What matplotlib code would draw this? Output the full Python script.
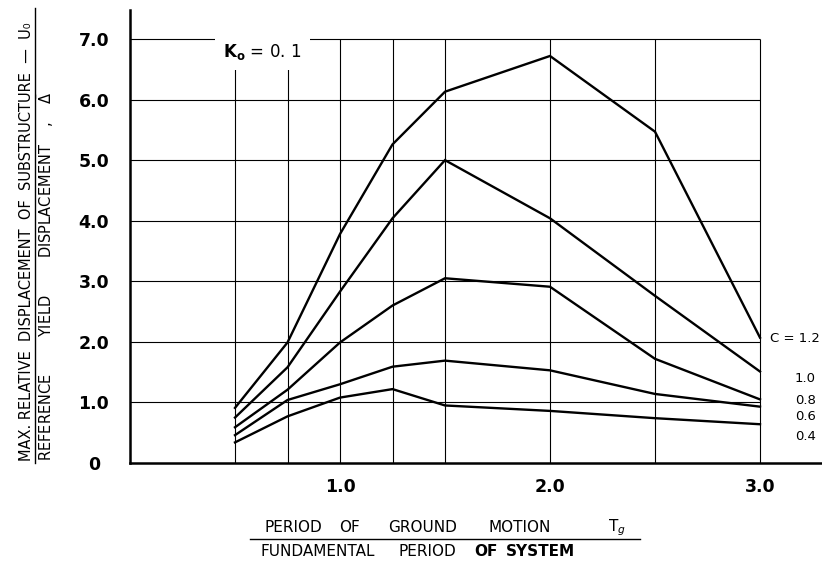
import matplotlib
matplotlib.use("Agg")
import matplotlib.pyplot as plt
from matplotlib.lines import Line2D

# ---- data ----
periods = [0.5, 0.75, 1.0, 1.25, 1.5, 2.0, 2.5, 3.0]
c_values = ["1.2", "1.0", "0.8", "0.6", "0.4"]
disp_c12 = [0.91, 1.99, 3.78, 5.26, 6.13, 6.72, 5.47, 2.07]
disp_c10 = [0.75, 1.58, 2.83, 4.04, 5.00, 4.04, 2.76, 1.51]
disp_c08 = [0.59, 1.21, 1.99, 2.60, 3.05, 2.91, 1.72, 1.05]
disp_c06 = [0.46, 1.04, 1.30, 1.59, 1.69, 1.53, 1.14, 0.93]
disp_c04 = [0.34, 0.77, 1.08, 1.22, 0.95, 0.86, 0.74, 0.64]
series = [disp_c12, disp_c10, disp_c08, disp_c06, disp_c04]
x_ticks = [1.0, 2.0, 3.0]
x_ticklabels = ["1.0", "2.0", "3.0"]
y_ticks = [0, 1, 2, 3, 4, 5, 6, 7]
y_ticklabels = ["0", "1.0", "2.0", "3.0", "4.0", "5.0", "6.0", "7.0"]

plt.rcParams['font.family'] = ['DejaVu Sans']

W, H = 822, 561
fig = plt.figure(figsize=(W / 100, H / 100), dpi=100)
ax = fig.add_axes([130 / W, 98 / H, (W - 130) / W, 453 / H])
ax.set_xlim(0, 692 / 210)
ax.set_ylim(0, 453 / 60.57)

# grid (bounded to data region)
ax.vlines(periods, 0, max(y_ticks), color='black', lw=0.8, zorder=1)
ax.hlines(y_ticks[1:], 0, max(periods), color='black', lw=0.8, zorder=1)

for s in series:
    ax.plot(periods, s, color='black', lw=1.7, zorder=3, solid_joinstyle='miter')

for side in ['top', 'right']:
    ax.spines[side].set_visible(False)
for side in ['left', 'bottom']:
    ax.spines[side].set_linewidth(1.8)

ax.set_xticks(x_ticks)
ax.set_xticklabels(x_ticklabels, fontsize=12.5, fontweight='bold')
ax.set_yticks(y_ticks)
ax.set_yticklabels(y_ticklabels, fontsize=12.5, fontweight='bold', ha='center')
ax.tick_params(axis='x', length=0, pad=11)
ax.tick_params(axis='y', length=0, pad=26)

# K0 annotation
ax.text(0.63, 6.79, r"$\mathbf{K}_{\mathbf{o}}$ = 0. 1", fontsize=12, ha='center', va='center',
        zorder=2, bbox=dict(facecolor='white', edgecolor='none', pad=6))

# C labels at right
label_y = [2.06, 1.40, 1.04, 0.76, 0.43]
for i, (c, ly) in enumerate(zip(c_values, label_y)):
    txt = "C = " + c if i == 0 else c
    lx = 3.05 if i == 0 else 3.165
    ax.text(lx, ly, txt, fontsize=9.5, ha='left', va='center', clip_on=False)

# y label (fraction)
fig.text(27 / W, 1 - 461 / H, "MAX. RELATIVE  DISPLACEMENT  OF  SUBSTRUCTURE  —  U\u2080",
         rotation=90, ha='center', va='bottom', fontsize=10.5)
fig.add_artist(Line2D([35 / W, 35 / W], [1 - 8 / H, 1 - 463 / H], color='black', lw=1.0))
fig.text(45 / W, 1 - 461 / H,
         r"REFERENCE        YIELD        DISPLACEMENT    ,    $\bar{\Delta}$",
         rotation=90, ha='center', va='bottom', fontsize=10.5)

# x label (fraction)
yl1 = 1 - 528 / H
yl2 = 1 - 552 / H
for word, px in [("PERIOD", 264), ("OF", 339), ("GROUND", 388), ("MOTION", 488), ("T$_g$", 608)]:
    fig.text(px / W, yl1, word, ha='left', va='center', fontsize=11)
fig.add_artist(Line2D([250 / W, 640 / W], [1 - 539 / H, 1 - 539 / H], color='black', lw=1.0))
for word, px, fw in [("FUNDAMENTAL", 260, 'normal'), ("PERIOD", 398, 'normal'),
                     ("OF", 474, 'bold'), ("SYSTEM", 506, 'bold')]:
    fig.text(px / W, yl2, word, ha='left', va='center', fontsize=11, fontweight=fw)

fig.savefig("out.png", dpi=100)
